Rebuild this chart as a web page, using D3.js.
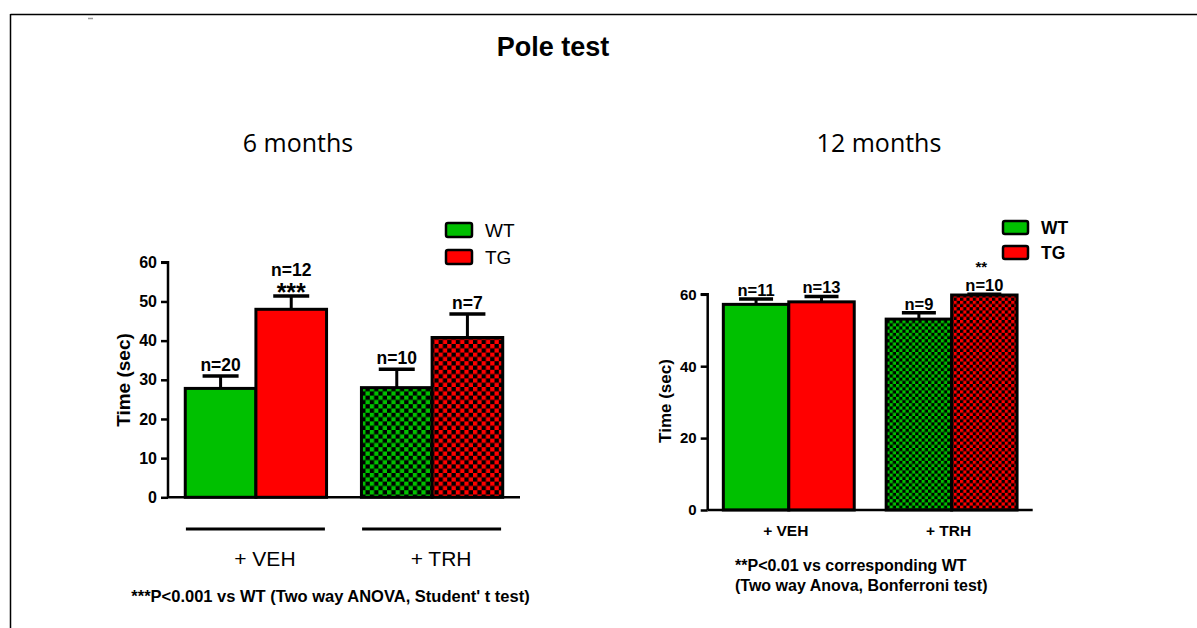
<!DOCTYPE html>
<html><head><meta charset="utf-8">
<script src="https://cdn.jsdelivr.net/npm/d3@7"></script>
<style>body{margin:0;background:#fff}svg{display:block}</style>
</head><body>
<svg id="c" width="1197" height="628"></svg>
<script>
// ---- data ----
const groups = ["+ VEH", "+ TRH"];
const seriesNames = ["WT", "TG"];
// 6 months
const m6Mean = [[27.8, 48.0], [28.0, 40.8]];
const m6Err  = [[3.2, 3.4], [4.7, 6.0]];
const m6N    = [["n=20", "n=12"], ["n=10", "n=7"]];
const m6Stars = [["", "***"], ["", ""]];
const m6Ticks = [0, 10, 20, 30, 40, 50, 60];
// 12 months
const m12Mean = [[57.2, 57.9], [53.1, 59.8]];
const m12Err  = [[1.5, 1.5], [1.8, 0.2]];
const m12N    = [["n=11", "n=13"], ["n=9", "n=10"]];
const m12Stars = [["", ""], ["", "**"]];
const m12Ticks = [0, 20, 40, 60];

const svg = d3.select("#c");
const F = "Liberation Sans, Arial, sans-serif";
const GREEN = "#00c000", RED = "#ff0000";

// patterns
const defs = svg.append("defs");
function checker(id, color, cell) {
  const p = defs.append("pattern").attr("id", id).attr("patternUnits", "userSpaceOnUse")
    .attr("width", cell * 2).attr("height", cell * 2);
  p.append("rect").attr("width", cell * 2).attr("height", cell * 2).attr("fill", "#000");
  p.append("rect").attr("width", cell).attr("height", cell).attr("fill", color);
  p.append("rect").attr("x", cell).attr("y", cell).attr("width", cell).attr("height", cell).attr("fill", color);
}
checker("gL", GREEN, 4.3); checker("rL", RED, 4.3);
checker("gR", GREEN, 3.2); checker("rR", RED, 3.2);

// frame
svg.append("line").attr("x1", 10.5).attr("x2", 1197).attr("y1", 14.5).attr("y2", 14.5).attr("stroke", "#000").attr("stroke-width", 1.5);
svg.append("line").attr("x1", 10.5).attr("x2", 10.5).attr("y1", 14).attr("y2", 628).attr("stroke", "#000").attr("stroke-width", 1.5);
svg.append("line").attr("x1", 88).attr("x2", 93).attr("y1", 18.5).attr("y2", 18.5).attr("stroke", "#999").attr("stroke-width", 1.5);

svg.append("text").attr("x", 553).attr("y", 56).attr("text-anchor", "middle")
  .attr("font-family", F).attr("font-weight", "bold").attr("font-size", 27).text("Pole test");
svg.append("text").attr("x", 298).attr("y", 152).attr("text-anchor", "middle")
  .attr("font-family", "Open Sans, sans-serif").attr("font-size", 25).text("6 months");
svg.append("text").attr("x", 879).attr("y", 152).attr("text-anchor", "middle")
  .attr("font-family", "Open Sans, sans-serif").attr("font-size", 25).text("12 months");

function panel(o) {
  const g = svg.append("g");
  const y = d3.scaleLinear().domain([0, 60]).range([o.y0, o.y60]);
  const x0 = d3.scaleBand().domain(groups).range([o.xl, o.xr]).paddingInner(o.padIn).paddingOuter(o.padOut);
  const x1 = d3.scaleBand().domain(seriesNames).range([0, x0.bandwidth()]);
  const fills = o.fills;
  groups.forEach((gr, gi) => {
    seriesNames.forEach((s, si) => {
      const v = o.mean[gi][si], e = o.err[gi][si];
      const bx = x0(gr) + x1(s), bw = x1.bandwidth(), cx = bx + bw / 2;
      const star = o.stars[gi][si];
      // error bar
      g.append("line").attr("x1", cx).attr("x2", cx).attr("y1", y(v)).attr("y2", y(v + e))
        .attr("stroke", "#000").attr("stroke-width", 3);
      g.append("line").attr("x1", cx - o.cap).attr("x2", cx + o.cap).attr("y1", y(v + e)).attr("y2", y(v + e))
        .attr("stroke", "#000").attr("stroke-width", 3.5);
      g.append("rect").attr("x", bx).attr("y", y(v)).attr("width", bw).attr("height", y(0) - y(v))
        .attr("fill", fills[gi][si]).attr("stroke", "#000").attr("stroke-width", 3);
      const nY = y(v + e) - o.nOff - (star && o.starBelowN ? o.starGap : 0);
      g.append("text").attr("x", cx).attr("y", nY).attr("text-anchor", "middle")
        .attr("font-family", F).attr("font-weight", "bold").attr("font-size", o.nSize).text(o.n[gi][si]);
      if (star) {
        const sY = o.starBelowN ? y(v + e) + 5 : nY - o.starGap;
        g.append("text").attr("x", cx - (o.starBelowN ? 0 : 3)).attr("y", sY).attr("text-anchor", "middle")
          .attr("font-family", F).attr("font-weight", "bold").attr("font-size", o.starSize).text(star);
      }
    });
  });
  // axes
  const ya = g.append("g").attr("transform", `translate(${o.ax},0)`)
    .call(d3.axisLeft(y).tickValues(o.ticks).tickSize(7).tickPadding(4).tickFormat(d3.format("d")));
  ya.select(".domain").attr("stroke-width", 2.5).attr("d", `M-7,${y(60)}H0V${y(0)}`);
  ya.selectAll(".tick line").attr("stroke-width", 2.5);
  ya.selectAll("text").attr("font-family", F).attr("font-weight", "bold").attr("font-size", o.tickSize).attr("fill", "#000");
  g.append("line").attr("x1", o.ax).attr("x2", o.bx).attr("y1", y(0)).attr("y2", y(0)).attr("stroke", "#000").attr("stroke-width", 2.5);
  g.append("text").attr("transform", `translate(${o.ylx},${o.yly}) rotate(-90)`).attr("text-anchor", "middle")
    .attr("dominant-baseline", "central")
    .attr("font-family", F).attr("font-weight", "bold").attr("font-size", o.ylSize).text("Time (sec)");
  // legend
  seriesNames.forEach((s, i) => {
    g.append("rect").attr("x", o.legX).attr("y", o.legY + i * o.legDy).attr("width", o.legW).attr("height", o.legH)
      .attr("rx", 2).attr("fill", i ? RED : GREEN).attr("stroke", "#000").attr("stroke-width", 2.5);
    g.append("text").attr("x", o.legX + o.legW + 13).attr("y", o.legY + i * o.legDy + o.legH / 2).attr("dominant-baseline", "central")
      .attr("font-family", F).attr("font-weight", o.legBold ? "bold" : "normal").attr("font-size", o.legSize).text(s);
  });
  return { g, x0 };
}

const L = panel({
  y0: 497.3, y60: 262.3, xl: 168, xr: 520, padIn: 0.198, padOut: 0.098,
  mean: m6Mean, err: m6Err, n: m6N, stars: m6Stars, ticks: m6Ticks,
  fills: [[GREEN, RED], ["url(#gL)", "url(#rL)"]],
  cap: 18, nOff: 5, nSize: 17.5, starBelowN: true, starGap: 15, starSize: 25,
  ax: 168, bx: 520, tickSize: 16, ylx: 123, yly: 380, ylSize: 19,
  legX: 446, legY: 223, legW: 26, legH: 14, legDy: 27, legSize: 19, legBold: false
});
// group lines & labels (6 months)
groups.forEach((gr, i) => {
  const x = L.x0(gr), w = L.x0.bandwidth(), c = x + w / 2;
  L.g.append("line").attr("x1", c - 70).attr("x2", c + 69).attr("y1", 529).attr("y2", 529).attr("stroke", "#000").attr("stroke-width", 3);
  L.g.append("text").attr("x", c + 9).attr("y", 565.5).attr("text-anchor", "middle")
    .attr("font-family", F).attr("font-size", 21).text(gr);
});
svg.append("text").attr("x", 330.5).attr("y", 602).attr("text-anchor", "middle")
  .attr("font-family", F).attr("font-weight", "bold").attr("font-size", 16.5).text("***P<0.001 vs WT (Two way ANOVA, Student' t test)");

const R = panel({
  y0: 510, y60: 294.3, xl: 707.7, xr: 1032.7, padIn: 0.196, padOut: 0.096,
  mean: m12Mean, err: m12Err, n: m12N, stars: m12Stars, ticks: m12Ticks,
  fills: [[GREEN, RED], ["url(#gR)", "url(#rR)"]],
  cap: 17, nOff: 3, nSize: 16.5, starBelowN: false, starGap: 19, starSize: 15,
  ax: 707.7, bx: 1032.7, tickSize: 15, ylx: 665, yly: 401, ylSize: 17,
  legX: 1003, legY: 221, legW: 25, legH: 13, legDy: 25, legSize: 17.5, legBold: true
});
groups.forEach((gr, i) => {
  const x = R.x0(gr), w = R.x0.bandwidth();
  R.g.append("text").attr("x", x + w / 2 - 3).attr("y", 535.5).attr("text-anchor", "middle")
    .attr("font-family", F).attr("font-weight", "bold").attr("font-size", 15.5).text(gr);
});
svg.append("text").attr("x", 735).attr("y", 571).attr("font-family", F).attr("font-weight", "bold").attr("font-size", 16).text("**P<0.01 vs corresponding WT");
svg.append("text").attr("x", 735).attr("y", 591).attr("font-family", F).attr("font-weight", "bold").attr("font-size", 16).text("(Two way Anova, Bonferroni test)");
</script>
</body></html>
